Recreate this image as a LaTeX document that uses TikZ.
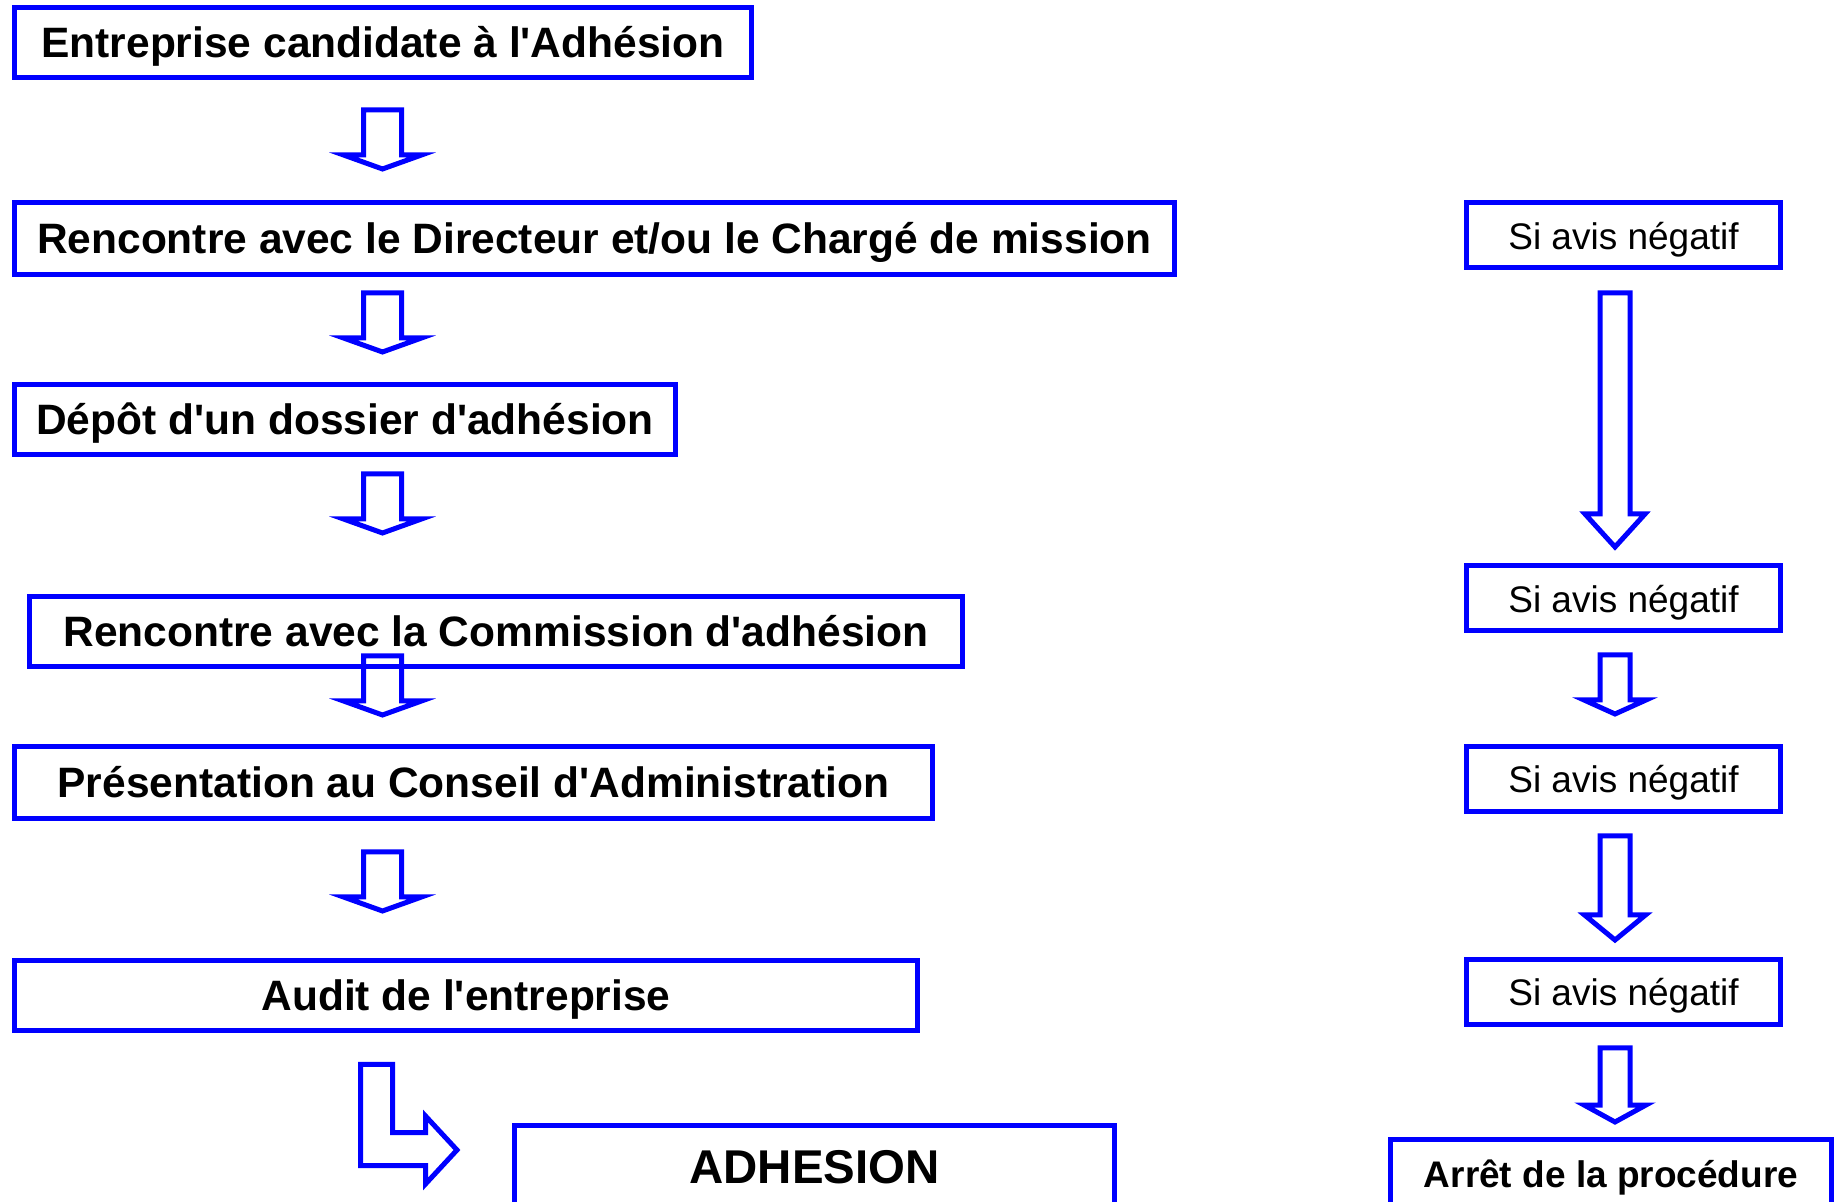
\documentclass[tikz,border=0pt]{standalone}
\usepackage{fontspec}
\setmainfont{Liberation Sans}
\usetikzlibrary{positioning}

\newcommand{\q}{\textquotesingle}
% hollow block arrow pointing down: x, top, head base, tip, half shaft, half head
\newcommand{\dnarrow}[6]{%
  \draw[hollow] ({#1-#5},#2) -- ({#1+#5},#2) -- ({#1+#5},#3) -- ({#1+#6},#3)
    -- (#1,#4) -- ({#1-#6},#3) -- ({#1-#5},#3) -- cycle;}

\begin{document}
\begin{tikzpicture}[x=0.5pt, y=-0.5pt,
    box/.style={draw=blue, line width=2.5pt, inner sep=0pt, align=center,
      text height=18.6pt, text depth=4pt,
      font=\fontsize{21.25}{24}\selectfont\bfseries},
    avis/.style={box, minimum width=157pt, minimum height=32.5pt,
      text height=16.6pt, text depth=3pt,
      font=\fontsize{18.5}{21}\selectfont},
    hollow/.style={draw=blue, line width=2.5pt, line join=miter}]
	\useasboundingbox (0,0) rectangle (1838,1202);

	% left column
	\node[box, minimum width=368.5pt, minimum height=35pt] (cand) at (383,42.5)
		{Entreprise candidate à l\q Adhésion};
	\node[box, minimum width=580pt, minimum height=36pt] (dir) at (594.5,238.5)
		{Rencontre avec le Directeur et/ou le Chargé de mission};
	\node[box, minimum width=330.5pt, minimum height=35pt] (dossier) at (345,419.5)
		{Dépôt d\q un dossier d\q adhésion};
	\node[box, minimum width=466.5pt, minimum height=35pt] (comm) at (496,631.5)
		{Rencontre avec la Commission d\q adhésion};
	\node[box, minimum width=459pt, minimum height=36pt] (conseil) at (473.5,782.5)
		{Présentation au Conseil d\q Administration};
	\node[box, minimum width=451.5pt, minimum height=35pt] (audit) at (466,995.5)
		{Audit de l\q entreprise};
	\node[box, minimum width=300pt, minimum height=40.5pt,
		text height=20pt, text depth=2.6pt,
		font=\fontsize{23.7}{27}\selectfont\bfseries] (adh) at (814.5,1166) {ADHESION};

	\dnarrow{382.5}{110}{155}{169}{19}{39}
	\dnarrow{382.5}{293}{338}{352}{19}{39}
	\dnarrow{382.5}{474}{519}{533}{19}{39}
	\dnarrow{382.5}{656}{701}{715}{19}{39}
	\dnarrow{382.5}{852}{897}{911}{19}{39}

	% bent arrow towards ADHESION
	\draw[hollow] (360.5,1064.5) -- (392.5,1064.5) -- (392.5,1132.5) -- (425.5,1132.5)
		-- (425.5,1116) -- (457,1150) -- (425.5,1184) -- (425.5,1165.5)
		-- (360.5,1165.5) -- cycle;

	% right column
	\node[avis] (neg1) at (1623.5,235.5) {Si avis négatif};
	\node[avis] (neg2) at (1623.5,598.5) {Si avis négatif};
	\node[avis] (neg3) at (1623.5,779) {Si avis négatif};
	\node[avis] (neg4) at (1623.5,992) {Si avis négatif};
	\node[box, minimum width=220.5pt, minimum height=33.5pt,
		text height=17pt, text depth=3pt,
		font=\fontsize{18.5}{21}\selectfont\bfseries] (stop) at (1611,1173)
		{Arrêt de la procédure};

	\dnarrow{1615}{293}{514}{547}{15}{30}
	\dnarrow{1615}{655}{700}{714}{15}{31}
	\dnarrow{1615}{836}{915}{940}{15}{30.5}
	\dnarrow{1615}{1048}{1105}{1122}{15}{31}
\end{tikzpicture}
\end{document}
